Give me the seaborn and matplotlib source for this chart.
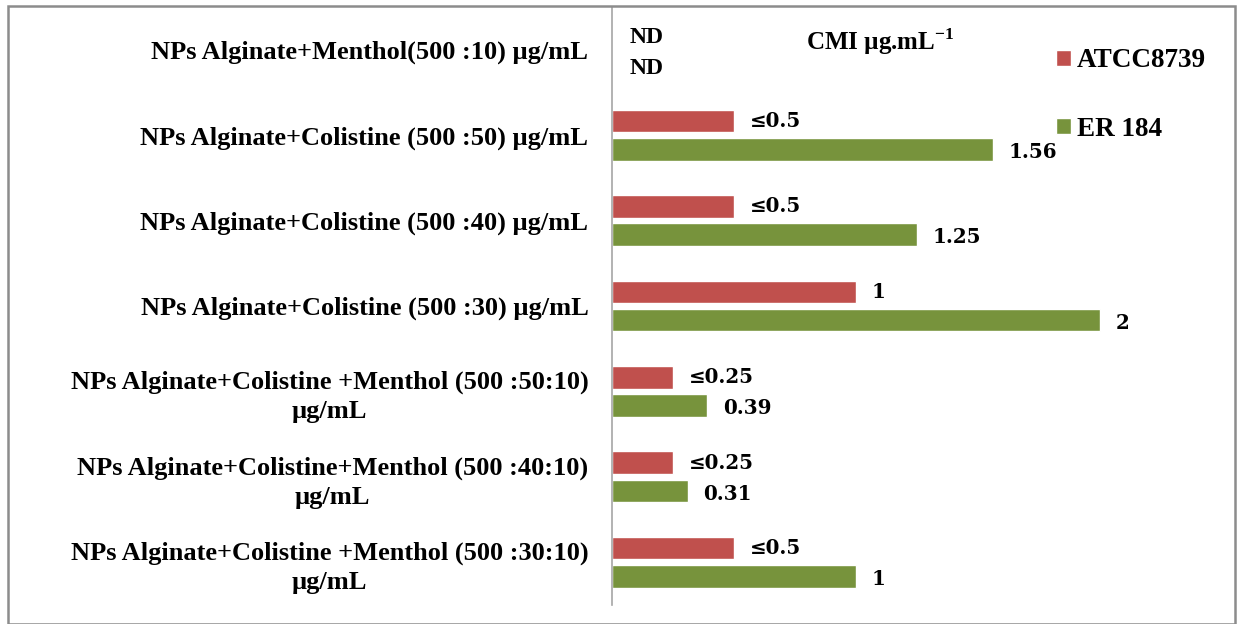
import matplotlib
matplotlib.use("Agg")
import matplotlib.pyplot as plt
import seaborn as sns
import pandas as pd
from matplotlib.patches import Rectangle

categories = [
    "NPs Alginate+Menthol(500 :10) µg/mL",
    "NPs Alginate+Colistine (500 :50) µg/mL",
    "NPs Alginate+Colistine (500 :40) µg/mL",
    "NPs Alginate+Colistine (500 :30) µg/mL",
    "NPs Alginate+Colistine +Menthol (500 :50:10)\nµg/mL",
    "NPs Alginate+Colistine+Menthol (500 :40:10)\nµg/mL",
    "NPs Alginate+Colistine +Menthol (500 :30:10)\nµg/mL",
]
series_names = ["ATCC8739", "ER 184"]
atcc_values = [0, 0.5, 0.5, 1, 0.25, 0.25, 0.5]
er184_values = [0, 1.56, 1.25, 2, 0.39, 0.31, 1]
atcc_labels = ["ND", "≤0.5", "≤0.5", "1", "≤0.25", "≤0.25", "≤0.5"]
er184_labels = ["ND", "1.56", "1.25", "2", "0.39", "0.31", "1"]
colors = ["#C0504D", "#77933C"]

df = pd.DataFrame({
    "category": categories * 2,
    "series": [series_names[0]] * len(categories) + [series_names[1]] * len(categories),
    "value": atcc_values + er184_values,
})

sns.set_theme(style="white")
plt.rcParams["font.family"] = ["Liberation Serif", "DejaVu Serif"]
plt.rcParams["text.color"] = "black"
plt.rcParams["ytick.color"] = "black"
plt.rcParams["mathtext.fontset"] = "custom"
plt.rcParams["mathtext.rm"] = "Liberation Serif:bold"
plt.rcParams["mathtext.bf"] = "Liberation Serif:bold"

W, H = 1237, 624
fig = plt.figure(figsize=(W / 100, H / 100), dpi=100)
ax_left, ax_right = 612 / W, 1235 / W
ax_bottom, ax_top = 1 - 605 / H, 1 - 7 / H
ax = fig.add_axes([ax_left, ax_bottom, ax_right - ax_left, ax_top - ax_bottom])

sns.barplot(data=df, y="category", x="value", hue="series", orient="h",
            palette=colors, width=0.66, gap=0.2, ax=ax, legend=True,
            saturation=1, order=categories, hue_order=series_names)

xmax = (1235 - 612) / 244.0
ax.set_xlim(0, xmax)
ax.set_ylim(len(categories) - 0.5, -0.5)

for cont, labs, dy in zip(ax.containers, [atcc_labels, er184_labels], [0, -2]):
    for bar, lab in zip(cont, labs):
        x = bar.get_x() + bar.get_width()
        y = bar.get_y() + bar.get_height() / 2
        if lab == "ND":
            ax.annotate(lab, (x, y), xytext=(12.5, dy - 1.5), textcoords="offset points",
                        ha="left", va="center", fontsize=17, fontweight="bold",
                        family=["Liberation Serif"], color="black")
        else:
            ax.annotate(lab, (x, y), xytext=(11.5, dy), textcoords="offset points",
                        ha="left", va="center", fontsize=14.3, fontweight="bold",
                        family=["DejaVu Serif"], color="black")

ax.set_xlabel("")
ax.set_ylabel("")
ax.set_xticks([])
ax.tick_params(axis="y", length=0, pad=17, labelsize=19, labelcolor="black")
for t in ax.get_yticklabels():
    t.set_fontweight("bold")
    t.set_multialignment("center")
    t.set_linespacing(1.35)

for s in ["top", "right", "bottom"]:
    ax.spines[s].set_visible(False)
ax.spines["left"].set_color("#A6A6A6")
ax.spines["left"].set_linewidth(1.2)

handles, labels = ax.get_legend_handles_labels()
ax.get_legend().remove()
fig.legend(handles, labels, loc="upper left",
           bbox_to_anchor=(1032 / W, 1 - 24 / H), bbox_transform=fig.transFigure,
           frameon=False, handlelength=0.55, handleheight=0.55, handletextpad=0.2,
           labelspacing=1.6, prop={"family": "Liberation Serif", "weight": "bold", "size": 19.5})

fig.text(880 / W, 1 - 42 / H, "CMI µg.mL$^{-1}$", ha="center", va="center",
         fontsize=18, fontweight="bold")

fig.patches.append(Rectangle((8 / W, 0.5 / H), (1235 - 8) / W, (618 - 0.5) / H,
                             transform=fig.transFigure, fill=False,
                             edgecolor="#8C8C8C", linewidth=1.8))

fig.savefig("out.png", dpi=100)
